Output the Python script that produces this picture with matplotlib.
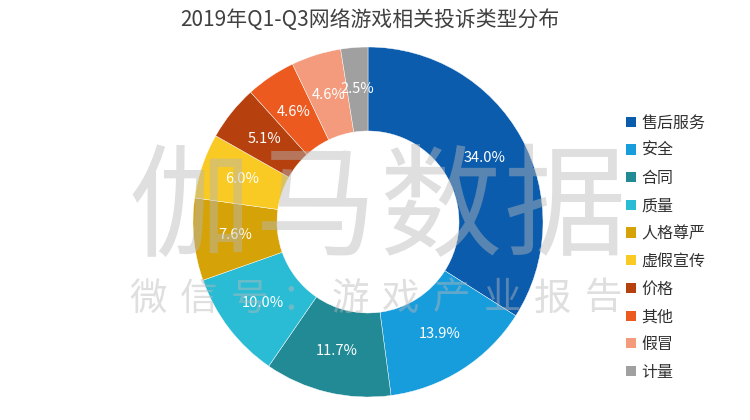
import numpy as np
import matplotlib.pyplot as plt
from matplotlib.patches import Patch

plt.rcParams['font.family'] = ['Noto Sans CJK SC', 'DejaVu Sans']

title = '2019年Q1-Q3网络游戏相关投诉类型分布'
categories = ['售后服务', '安全', '合同', '质量', '人格尊严', '虚假宣传', '价格', '其他', '假冒', '计量']
values = [34.0, 13.9, 11.7, 10.0, 7.6, 6.0, 5.1, 4.6, 4.6, 2.5]
colors = ['#0b5cad', '#179cdc', '#218a95', '#2bbcd5', '#d5a308', '#f9c924',
          '#b6410f', '#ec5a1f', '#f39b7c', '#a0a0a0']

fig = plt.figure(figsize=(7.5, 4.2), dpi=100)
fig.patch.set_facecolor('white')

# pie axes: centre ~ (368, 222) px, radius ~175 px
ax = fig.add_axes([193 / 750, 23 / 420, 350 / 750, 350 / 420])
wedges, texts, autotexts = ax.pie(
    values, colors=colors, startangle=90, counterclock=False,
    radius=1.0, autopct='%.1f%%', pctdistance=0.76,
    wedgeprops=dict(width=0.48, edgecolor='white', linewidth=0.3),
    textprops=dict(color='white', fontsize=10.5))
ax.set_xlim(-1, 1)
ax.set_ylim(-1, 1)
ax.set_aspect('equal')
ax.axis('off')

fig.text(370 / 750, 1 - 20 / 420, title, ha='center', va='center',
         fontsize=15, color='#404040')

# watermark
wm = fig.add_axes([0, 0, 1, 1], facecolor='none')
wm.set_xlim(0, 750)
wm.set_ylim(420, 0)
wm.axis('off')
for i, ch in enumerate('伽马数据'):
    wm.text(190 + i * 125, 212, ch, ha='center', va='center', fontsize=88,
            fontweight='light', color='#b8b8b8', alpha=0.45, zorder=5)
for i, ch in enumerate('微信号：游戏产业报告'):
    wm.text(148 + i * 50.6, 299, ch, ha='center', va='center', fontsize=27,
            fontweight='light', color='#b8b8b8', alpha=0.45, zorder=5)

handles = [Patch(facecolor=c, edgecolor='none') for c in colors]
fig.legend(handles, categories, loc='upper left',
           bbox_to_anchor=(612 / 750, 1 - 100 / 420), frameon=False,
           fontsize=11.5, handlelength=0.6, handleheight=0.6,
           handletextpad=0.35, labelspacing=0.67, labelcolor='#303030')

fig.savefig('out.png', dpi=100, facecolor='white')
